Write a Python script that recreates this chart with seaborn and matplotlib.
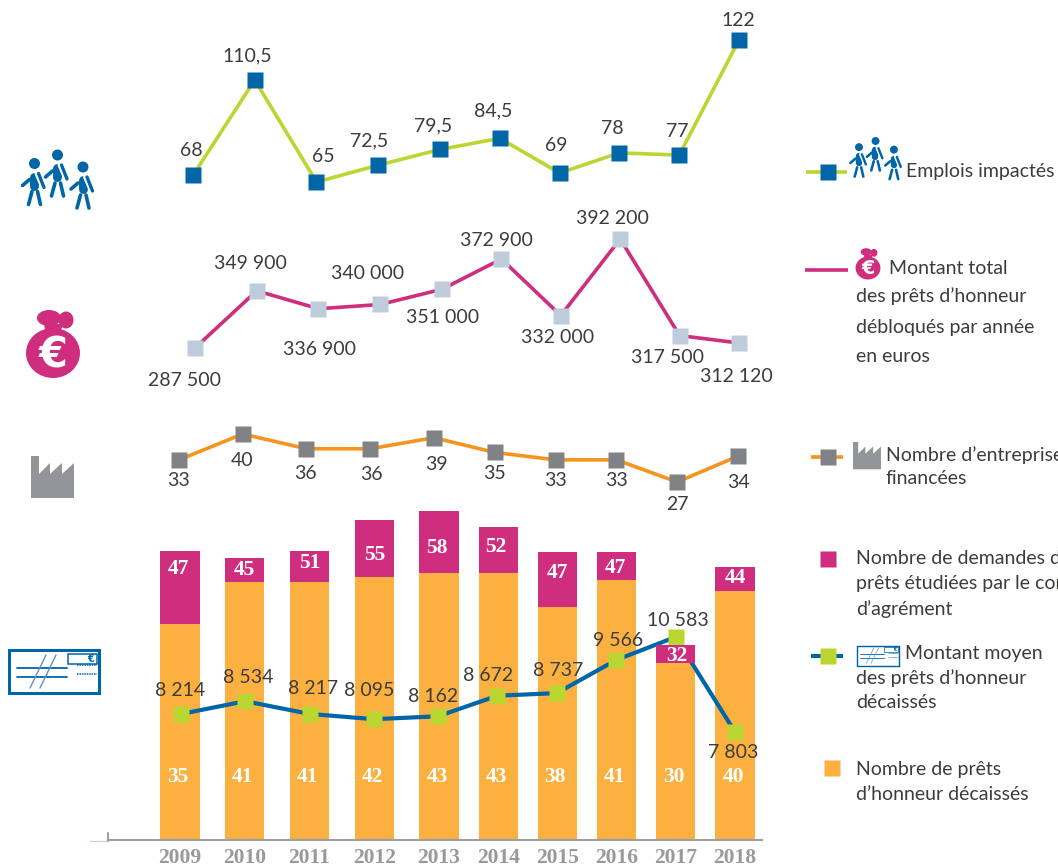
import matplotlib

matplotlib.use("Agg")
import matplotlib.pyplot as plt
import numpy as np
import seaborn as sns
from matplotlib.patches import Circle, Ellipse, Polygon, Rectangle

W, H = 1058, 867

years = [2009, 2010, 2011, 2012, 2013, 2014, 2015, 2016, 2017, 2018]

emplois = [68, 110.5, 65, 72.5, 79.5, 84.5, 69, 78, 77, 122]
emplois_txt = ["68", "110,5", "65", "72,5", "79,5", "84,5", "69", "78", "77", "122"]

montant_total = [287500, 349900, 336900, 340000, 351000, 372900, 332000, 392200, 317500, 312120]
montant_txt = ["287 500", "349 900", "336 900", "340 000", "351 000",
               "372 900", "332 000", "392 200", "317 500", "312 120"]

entreprises = [33, 40, 36, 36, 39, 35, 33, 33, 27, 34]

montant_moyen = [8214, 8534, 8217, 8095, 8162, 8672, 8737, 9566, 10583, 7803]
moyen_txt = ["8 214", "8 534", "8 217", "8 095", "8 162",
             "8 672", "8 737", "9 566", "10 583", "7 803"]

# labels of the bars, and their heights as drawn (source bars do not follow the labels)
prets_txt = [35, 41, 41, 42, 43, 43, 38, 41, 30, 40]
prets_h = [34.8, 41.6, 41.6, 42.4, 43.0, 43.0, 37.6, 42.0, 28.5, 40.2]
demandes_txt = [47, 45, 51, 55, 58, 52, 47, 47, 32, 44]
demandes_h = [46.6, 45.5, 46.6, 51.6, 53.1, 50.5, 46.5, 46.5, 31.5, 44.0]

GREEN = "#bcd631"
BLUE = "#0066a8"
PINK = "#cf2e7f"
PALE = "#bfccdc"
ORANGE = "#f7941d"
GREY = "#808285"
BAR_ORANGE = "#fbb040"
TEXT = "#3c3c3b"
SANS = "Lato"
SERIF = "Liberation Serif"

sns.set_theme(style="white")
plt.rcParams["font.family"] = [SANS, "DejaVu Sans"]

fig = plt.figure(figsize=(W / 100, H / 100), dpi=100)


def anchored(src, dst):
    """Piecewise linear map, extended linearly on both sides."""
    src = np.asarray(src, float)
    dst = np.asarray(dst, float)

    def f(v):
        v = np.asarray(v, float)
        out = np.interp(v, src, dst)
        low = dst[0] + (v - src[0]) * (dst[1] - dst[0]) / (src[1] - src[0])
        high = dst[-1] + (v - src[-1]) * (dst[-1] - dst[-2]) / (src[-1] - src[-2])
        return np.where(v < src[0], low, np.where(v > src[-1], high, out))

    return f


def panel(x_anchor, y_values, y_pixels, zorder):
    """Full figure axes, whose scales are calibrated on the figure's pixels."""
    ax = fig.add_axes([0, 0, 1, 1], zorder=zorder)
    ax.patch.set_alpha(0)
    xs = [2009, 2013, 2018]
    fx, ix = anchored(xs, x_anchor), anchored(x_anchor, xs)
    ypix = [H - p for p in y_pixels]
    fy, iy = anchored(y_values, ypix), anchored(ypix, y_values)
    ax.set_xscale("function", functions=(fx, ix))
    ax.set_yscale("function", functions=(fy, iy))
    ax.set_xlim(ix(0), ix(W))
    ax.set_ylim(iy(0), iy(H))
    return ax, ix, iy


def line_panel(ax, values, color, face, width=2.6):
    limits = ax.get_xlim(), ax.get_ylim()
    sns.lineplot(x=years, y=values, ax=ax, color=color, linewidth=width, marker="s",
                 markersize=11, markerfacecolor=face, markeredgecolor="none",
                 errorbar=None, sort=False)
    ax.set_xlim(limits[0])
    ax.set_ylim(limits[1])
    ax.set_axis_off()


def labels(ax, values, texts, offsets, size=14, **kw):
    for year, val, txt, (dx, dy) in zip(years, values, texts, offsets):
        ax.annotate(str(txt), (year, val), xytext=(dx, dy), textcoords="offset pixels",
                    ha="center", va="center", fontsize=size,
                    color=kw.get("color", TEXT), family=kw.get("family", SANS),
                    fontweight=kw.get("weight", "normal"), annotation_clip=False)


# emplois
ax1, _, _ = panel([193, 440, 739], [65, 110.5, 122], [182, 80, 40], 2)
line_panel(ax1, emplois, GREEN, BLUE)
labels(ax1, emplois, emplois_txt,
       [(-2, 25), (-7, 24), (7, 25), (-9, 24), (-7, 24),
        (-7, 27), (-3, 28), (-7, 24), (-2, 24), (-1, 20)])

# montant total
ax2, _, _ = panel([195, 442, 739], [287500, 312120, 372900, 392200], [348, 343, 259, 239], 2)
line_panel(ax2, montant_total, PINK, PALE)
labels(ax2, montant_total, montant_txt,
       [(-10, -32), (-6, 27), (1, -41), (-13, 31), (1, -28),
        (-5, 19), (-3, -22), (-8, 20), (-12, -22), (-3, -34)])

# entreprises
ax3, _, _ = panel([179, 434, 738], [27, 40], [482, 434], 2)
line_panel(ax3, entreprises, ORANGE, GREY)
labels(ax3, entreprises, entreprises,
       [(0, -21), (-1, -27), (-1, -25), (1, -26), (2, -27),
        (0, -21), (0, -21), (0, -21), (0, -22), (0, -26)])

# bars: orange under the average line, pink above it
bar_x = [180, 439, 735]
bar_y = ([0, 40], [840, 592])
ax4, ix4, _ = panel(bar_x, *bar_y, 1)
limits = ax4.get_xlim(), ax4.get_ylim()
sns.barplot(x=years, y=prets_h, ax=ax4, native_scale=True, orient="x", width=0.66,
            color=BAR_ORANGE, saturation=1, errorbar=None, linewidth=0)
ax4.set_xlim(limits[0])
ax4.set_ylim(limits[1])
ax4.set_xlabel("")
ax4.set_ylabel("")
sns.despine(ax=ax4, left=True)
ax4.spines["bottom"].set_position(("data", 0))
ax4.spines["bottom"].set_bounds(float(ix4(108)), float(ix4(762)))
ax4.spines["bottom"].set_color("#9d9fa2")
ax4.spines["bottom"].set_linewidth(1.5)
ax4.set_xticks(years, [str(y) for y in years], family=SERIF, fontweight="bold",
               fontsize=15.5, color="#98999b")
ax4.set_yticks([])
ax4.tick_params(axis="x", length=0, pad=6)
ax4.minorticks_off()
labels(ax4, [0] * 10, prets_txt, [(-2, 63)] * 10, size=15.5, family=SERIF, weight="bold", color="white")

ax5, _, _ = panel([181, 438, 735], [7803, 8214, 9566, 10583], [732, 714, 660, 637], 2)
line_panel(ax5, montant_moyen, BLUE, GREEN, width=3)
labels(ax5, montant_moyen, moyen_txt,
       [(-1, 24), (3, 24), (4, 25), (-5, 29), (-5, 20),
        (-9, 20), (1, 23), (2, 20), (2, 16), (-2, -21)])

ax6, _, _ = panel(bar_x, *bar_y, 3)
limits = ax6.get_xlim(), ax6.get_ylim()
sns.barplot(x=years, y=np.array(demandes_h) - np.array(prets_h), bottom=prets_h, ax=ax6,
            native_scale=True, orient="x", width=0.66, color=PINK, saturation=1, errorbar=None,
            linewidth=0)
ax6.set_xlim(limits[0])
ax6.set_ylim(limits[1])
ax6.set_axis_off()
labels(ax6, demandes_h, demandes_txt,
       [(-2, -18), (0, -12), (0, -12), (0, -35), (-2, -37),
        (-2, -20), (0, -21), (-1, -16), (1, -11), (0, -11)],
       size=15.5, family=SERIF, weight="bold", color="white")

# overlay in pixels for the icons and the legend
ov = fig.add_axes([0, 0, 1, 1], zorder=5)
ov.patch.set_alpha(0)
ov.set_xlim(0, W)
ov.set_ylim(H, 0)
ov.set_axis_off()

ov.plot([90, 108], [841, 841], color="#f4c4b0", lw=0.8)
ov.plot([108, 108], [833, 841], color="#9d9fa2", lw=1.5)


def person(x, y, s=1.0):
    ov.add_patch(Circle((x, y), 5.5 * s, color=BLUE, lw=0))
    ov.plot([x - 0.5 * s, x - 0.5 * s], [y + 13 * s, y + 22 * s], color=BLUE,
            lw=6.4 * s, solid_capstyle="round")
    for a, b in [((-2.5, 28), (-6, 41)), ((3, 28), (6, 41)), ((-5, 16), (-12, 22))]:
        ov.plot([x + a[0] * s, x + b[0] * s], [y + a[1] * s, y + b[1] * s], color=BLUE,
                lw=2.6 * s, solid_capstyle="round")
    ov.plot([x + 3 * s, x + 9 * s], [y + 10 * s, y + 24 * s], color="white", lw=4.2 * s)
    ov.plot([x + 4 * s, x + 9.5 * s], [y + 10 * s, y + 24 * s], color=BLUE, lw=2.4 * s,
            solid_capstyle="round")


def people(x, y, s=1.0):
    person(x, y + 8.5 * s, s)
    person(x + 23 * s, y, s)
    person(x + 48.5 * s, y + 12 * s, s)


def bag(x, y, s=1.0):
    ov.add_patch(Ellipse((x, y), 54 * s, 50 * s, color=PINK, lw=0))
    ov.add_patch(Polygon([(x - 9 * s, y - 29 * s), (x + 11 * s, y - 29 * s),
                          (x + 5 * s, y - 18 * s), (x - 7 * s, y - 18 * s)], color=PINK, lw=0))
    ov.add_patch(Ellipse((x - 4 * s, y - 35 * s), 24 * s, 16 * s, color=PINK, lw=0))
    ov.add_patch(Ellipse((x + 13 * s, y - 33 * s), 15 * s, 17 * s, color=PINK, lw=0))
    ov.text(x, y + 2 * s, "€", color="white", fontsize=30 * s, fontweight="bold",
            family="DejaVu Sans", ha="center", va="center")


def factory(x, y, s=1.0):
    pts = [(0, 0), (8, 0), (8, 18), (19, 7), (19, 18), (31, 7), (31, 18), (43, 7), (43, 42), (0, 42)]
    ov.add_patch(Polygon([(x + a * s, y + b * s) for a, b in pts], color="#939598", lw=0))


def cheque(x, y, s=1.0):
    ov.add_patch(Rectangle((x, y), 90 * s, 43 * s, fill=False, ec=BLUE, lw=2.2 * s))
    ov.add_patch(Rectangle((x + 59 * s, y + 4 * s), 29 * s, 10 * s, fill=False, ec=BLUE, lw=1.1 * s))
    ov.text(x + 82 * s, y + 9.5 * s, "€", color=BLUE, fontsize=7 * s, fontweight="bold",
            family="DejaVu Sans", ha="center", va="center")
    for dy in (18, 27):
        ov.plot([x + 8 * s, x + 58 * s], [y + dy * s, y + dy * s], color=BLUE, lw=1.3 * s)
        ov.plot([x + 68 * s, x + 88 * s], [y + dy * s - 3 * s, y + dy * s - 3 * s], color=BLUE,
                lw=1.1 * s, ls=(0, (1, 0.6)))
    for dx in (21, 31):
        ov.plot([x + dx * s, x + (dx + 16) * s], [y + 38 * s, y + 5 * s], color="#5b93c4", lw=1.0 * s)


people(34.5, 155)
bag(53, 353)
factory(31, 456)
cheque(9, 650)

# legend
people(859, 141, 0.72)
bag(868, 268, 0.46)
factory(853, 442, 0.65)
cheque(856.5, 645.5, 0.47)


def key(x0, x1, y, color, face, width=2.6, sq=None):
    if color:
        ov.plot([x0, x1], [y, y], color=color, lw=width, solid_capstyle="butt")
    if face:
        ov.plot([sq if sq else (x0 + x1) / 2], [y], "s", color=face, ms=11, mec="none")


key(806, 847, 172, GREEN, BLUE, sq=828)
key(805, 848, 270, PINK, None)
key(811, 843, 457, ORANGE, GREY, sq=828)
key(0, 0, 559, None, PINK, sq=828)
key(811, 843, 656, BLUE, GREEN, width=3, sq=828)
key(0, 0, 768, None, BAR_ORANGE, sq=832)

legend_lines = [
    (906, 171, "Emplois impactés"),
    (889, 268, "Montant total"),
    (856, 296, "des prêts d’honneur"),
    (856, 327, "débloqués par année"),
    (856, 356, "en euros"),
    (886, 455, "Nombre d’entreprises"),
    (886, 478, "financées"),
    (856, 558, "Nombre de demandes de"),
    (856, 584, "prêts étudiées par le comité"),
    (856, 609, "d’agrément"),
    (905, 653, "Montant moyen"),
    (856, 678, "des prêts d’honneur"),
    (856, 703, "décaissés"),
    (856, 769, "Nombre de prêts"),
    (856, 794, "d’honneur décaissés"),
]
for x, y, txt in legend_lines:
    ov.text(x, y, txt, color=TEXT, fontsize=14, ha="left", va="center")

fig.savefig("out.png", dpi=100)
